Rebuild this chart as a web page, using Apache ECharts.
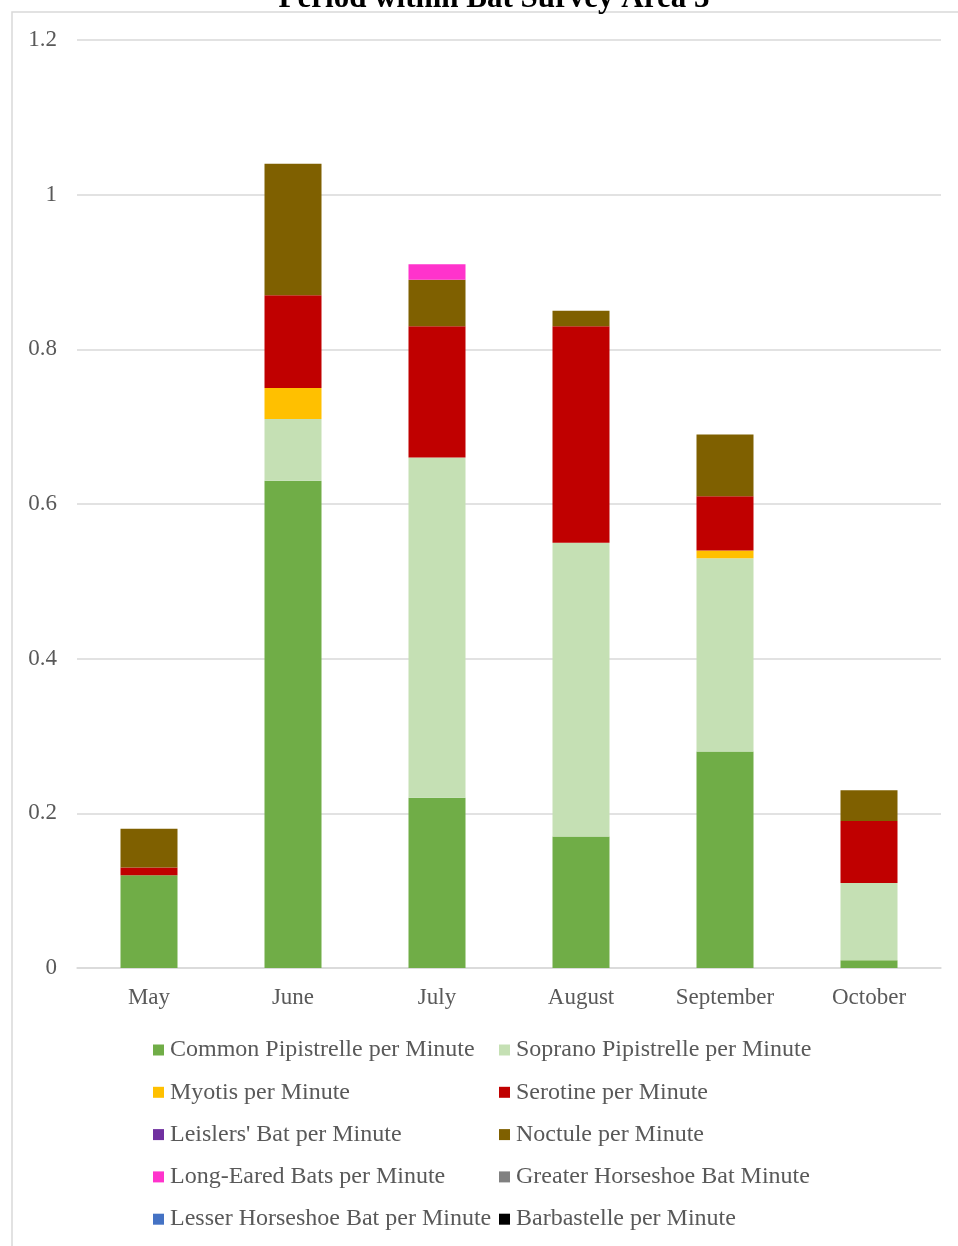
<!DOCTYPE html>
<html>
<head>
<meta charset="utf-8">
<script src="https://cdn.jsdelivr.net/npm/echarts@6/dist/echarts.min.js"></script>
<style>
  html, body { margin: 0; padding: 0; background: #fff; }
  #chart { width: 958px; height: 1246px; }
</style>
</head>
<body>
<div id="chart"></div>
<script>
// Months along the x axis
const months = ['May', 'June', 'July', 'August', 'September', 'October'];

// Bat passes per minute, one array per species
const commonPip   = [0.12, 0.63, 0.22, 0.17, 0.28, 0.01];
const sopranoPip  = [0,    0.08, 0.44, 0.38, 0.25, 0.10];
const myotis      = [0,    0.04, 0,    0,    0.01, 0];
const serotine    = [0.01, 0.12, 0.17, 0.28, 0.07, 0.08];
const leislers    = [0,    0,    0,    0,    0,    0];
const noctule     = [0.05, 0.17, 0.06, 0.02, 0.08, 0.04];
const longEared   = [0,    0,    0.02, 0,    0,    0];
const greaterHs   = [0,    0,    0,    0,    0,    0];
const lesserHs    = [0,    0,    0,    0,    0,    0];
const barbastelle = [0,    0,    0,    0,    0,    0];

const yTicks = [0, 0.2, 0.4, 0.6, 0.8, 1, 1.2];

const seriesDefs = [
    { name: 'Common Pipistrelle per Minute', data: commonPip, color: '#70AD47' },
    { name: 'Soprano Pipistrelle per Minute', data: sopranoPip, color: '#C5E0B4' },
    { name: 'Myotis per Minute', data: myotis, color: '#FFC000' },
    { name: 'Serotine per Minute', data: serotine, color: '#C00000' },
    { name: "Leislers' Bat per Minute", data: leislers, color: '#7030A0' },
    { name: 'Noctule per Minute', data: noctule, color: '#7F6000' },
    { name: 'Long-Eared Bats per Minute', data: longEared, color: '#FF33CC' },
    { name: 'Greater Horseshoe Bat Minute', data: greaterHs, color: '#808080' },
    { name: 'Lesser Horseshoe Bat per Minute', data: lesserHs, color: '#4472C4' },
    { name: 'Barbastelle per Minute', data: barbastelle, color: '#000000' }
];

const font = '"Liberation Serif", "Times New Roman", serif';
const textGrey = '#595959';
const lineGrey = '#d9d9d9';

// two legend columns, alternating items like the original
const legendCommon = {
    orient: 'vertical',
    top: 1033,
    itemWidth: 11,
    itemHeight: 11,
    itemGap: 18.3,
    icon: 'rect',
    textStyle: { fontFamily: font, fontSize: 24, color: textGrey, padding: [0, 0, 0, 1] }
};

const chart = echarts.init(document.getElementById('chart'));

chart.setOption({
    backgroundColor: '#fff',
    animation: false,
    title: {
        text: 'Period within Bat Survey Area 3',
        left: 489,
        textAlign: 'center',
        top: -22,
        textStyle: { fontFamily: font, fontSize: 31, fontWeight: 'bold', color: '#000' }
    },
    graphic: [{
        type: 'rect',
        shape: { x: 12, y: 12, width: 960, height: 1260 },
        style: { fill: 'none', stroke: lineGrey, lineWidth: 1.5 },
        z: -1
    }],
    legend: [
        Object.assign({}, legendCommon, {
            left: 148,
            data: seriesDefs.filter((s, i) => i % 2 === 0).map(s => s.name)
        }),
        Object.assign({}, legendCommon, {
            left: 494,
            data: seriesDefs.filter((s, i) => i % 2 === 1).map(s => s.name)
        })
    ],
    grid: { left: 77, right: 17, top: 40, bottom: 278 },
    xAxis: {
        type: 'category',
        data: months,
        axisLine: { lineStyle: { color: lineGrey, width: 1.5 } },
        axisTick: { show: false },
        axisLabel: { fontFamily: font, fontSize: 23, color: textGrey, margin: 18 }
    },
    yAxis: {
        type: 'value',
        min: yTicks[0],
        max: yTicks[yTicks.length - 1],
        interval: 0.2,
        axisLine: { show: false },
        axisTick: { show: false },
        splitLine: { lineStyle: { color: lineGrey, width: 1.5 } },
        axisLabel: {
            fontFamily: font, fontSize: 23, color: textGrey, margin: 20,
            formatter: v => String(Math.round(v * 10) / 10)
        }
    },
    series: seriesDefs.map(s => ({
        name: s.name,
        type: 'bar',
        stack: 'bats',
        barWidth: 57,
        data: s.data,
        itemStyle: { color: s.color }
    }))
});
</script>
</body>
</html>
